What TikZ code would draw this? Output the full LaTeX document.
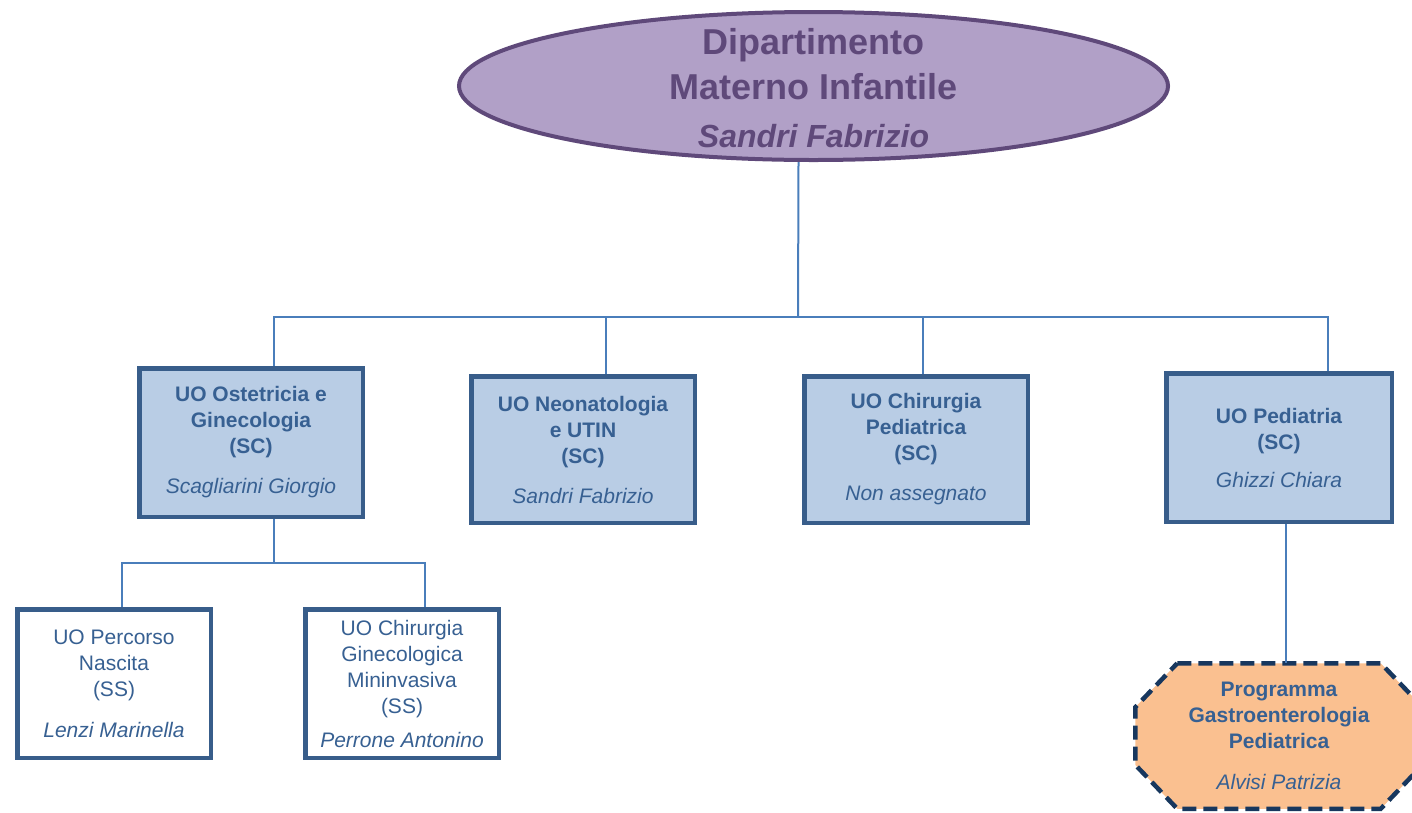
\documentclass[tikz,border=0pt]{standalone}
\usepackage{fontspec}
\setmainfont{Liberation Sans}
\usetikzlibrary{shapes.geometric}
\definecolor{dipfill}{HTML}{B1A0C7}
\definecolor{dipline}{HTML}{5F497A}
\definecolor{boxfill}{HTML}{B9CDE5}
\definecolor{boxline}{HTML}{385D8A}
\definecolor{boxtext}{HTML}{376092}
\definecolor{linkblue}{HTML}{4A7EBB}
\definecolor{progfill}{HTML}{FAC090}
\definecolor{progline}{HTML}{17375E}
\begin{document}
\begin{tikzpicture}[x=1pt,y=-1pt]
    \tikzstyle{box}=[draw=boxline,line width=4.5pt,fill=boxfill,text=boxtext,align=center,
      minimum width=223.5pt,minimum height=148.5pt,font=\fontsize{21}{26}\selectfont\bfseries];
    \tikzstyle{subbox}=[box,fill=white,minimum width=193.5pt,font=\fontsize{21}{26}\selectfont];
    \tikzstyle{link}=[draw=linkblue,line width=2pt];
    \useasboundingbox (0,0) rectangle (1412,812);
    % department
    \node[ellipse,draw=dipline,line width=4pt,fill=dipfill,minimum width=709pt,minimum height=148pt] (dip) at (813.5,86) {};
    \node[text=dipline,align=center,font=\fontsize{36}{45}\selectfont\bfseries] (diptext) at (813.5,88)
      {Dipartimento\\Materno Infantile\\[3pt]\fontsize{32}{40}\selectfont\itshape Sandri Fabrizio};
    % SC units
    \node[box] (ost) at (251,442.5) {UO Ostetricia e\\Ginecologia\\(SC)\\[14pt]\mdseries\itshape Scagliarini Giorgio};
    \node[box,minimum height=146.5pt] (neo) at (583,449.5) {UO Neonatologia\\e UTIN\\(SC)\\[14pt]\mdseries\itshape Sandri Fabrizio};
    \node[box,minimum height=146.5pt] (chi) at (916,449.5) {UO Chirurgia\\Pediatrica\\(SC)\\[14pt]\mdseries\itshape Non assegnato};
    \node[box,minimum width=225.5pt] (ped) at (1279,447.5) {UO Pediatria\\(SC)\\[12pt]\mdseries\itshape Ghizzi Chiara};
    % SS units
    \node[subbox] (perc) at (114,683.5) {UO Percorso\\Nascita\\(SS)\\[15pt]\itshape Lenzi Marinella};
    \node[subbox] (gin) at (402,683.5) {UO Chirurgia\\Ginecologica\\Mininvasiva\\(SS)\\[8pt]\itshape Perrone Antonino};
    % programme (octagon drawn round the text node)
    \node[box,draw=none,fill=none,outer sep=0pt,minimum width=287.5pt,minimum height=145.5pt] (prog) at (1279,736) {};
    \draw[draw=progline,fill=progfill,line width=4.5pt,dash pattern=on 14pt off 7pt]
      ([xshift=42pt]prog.north west) -- ([xshift=-42pt]prog.north east)
      -- ([yshift=-44pt]prog.north east) -- ([yshift=44pt]prog.south east)
      -- ([xshift=-42pt]prog.south east) -- ([xshift=42pt]prog.south west)
      -- ([yshift=44pt]prog.south west) -- ([yshift=-44pt]prog.north west) -- cycle;
    \node[box,draw=none,fill=none] at (prog) {Programma\\Gastroenterologia\\Pediatrica\\[15pt]\mdseries\itshape Alvisi Patrizia};
    % connectors
    \coordinate (bar) at (798,317);
    \coordinate (sub) at (274,563);
    \draw[link] ([xshift=-15pt]dip.south) -- (bar);
    \draw[link] ([xshift=23pt]ost.north) |- (bar) -| ([xshift=49pt]ped.north);
    \draw[link] ([xshift=23pt]neo.north) -- ([xshift=23pt]neo.north |- bar);
    \draw[link] ([xshift=7pt]chi.north) -- ([xshift=7pt]chi.north |- bar);
    \draw[link] ([xshift=23pt]ost.south) -- (sub);
    \draw[link] ([xshift=8pt]perc.north) |- (sub) -| ([xshift=23pt]gin.north);
    \draw[link] ([xshift=7pt]ped.south) -- ([xshift=7pt]prog.north);
\end{tikzpicture}
\end{document}
